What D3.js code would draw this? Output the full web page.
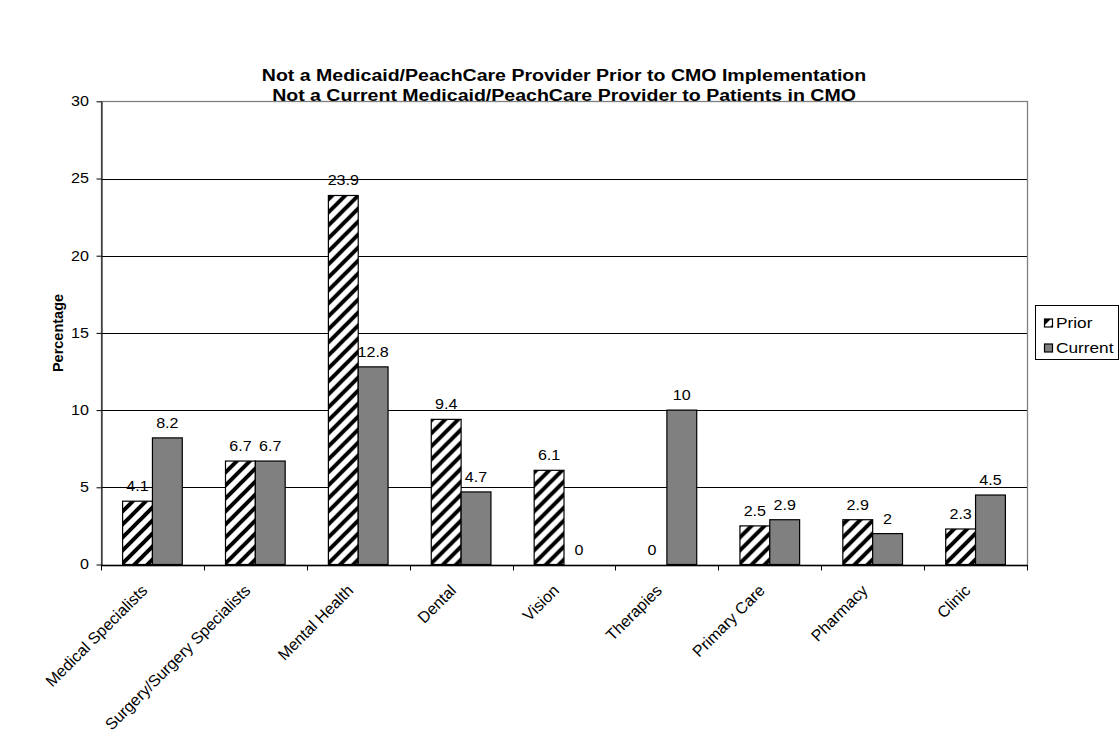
<!DOCTYPE html>
<html>
<head>
<meta charset="utf-8">
<script src="https://cdn.jsdelivr.net/npm/d3@7"></script>
<style>
  html, body { margin: 0; padding: 0; background: #fff; }
  svg { display: block; font-family: "Liberation Sans", Arial, sans-serif; }
</style>
</head>
<body>
<svg id="chart" width="1119" height="736"></svg>
<script>
// ---- data ----
const categories = ["Medical Specialists", "Surgery/Surgery Specialists", "Mental Health", "Dental", "Vision", "Therapies", "Primary Care", "Pharmacy", "Clinic"];
const seriesNames = ["Prior", "Current"];
const priorValues = [4.1, 6.7, 23.9, 9.4, 6.1, 0, 2.5, 2.9, 2.3];
const currentValues = [8.2, 6.7, 12.8, 4.7, 0, 10, 2.9, 2, 4.5];
const yTicks = [0, 5, 10, 15, 20, 25, 30];
const titleLines = ["Not a Medicaid/PeachCare Provider Prior to CMO Implementation", "Not a Current Medicaid/PeachCare Provider to Patients in CMO"];
const yAxisTitle = "Percentage";

const svg = d3.select("#chart");
const plot = { left: 101, right: 1027, top: 101.3, bottom: 564.5 };
const SX = 1.15; // horizontal text stretch

// hatch pattern
const defs = svg.append("defs");
const p = 13;
const pat = defs.append("pattern").attr("id", "hatch").attr("patternUnits", "userSpaceOnUse")
  .attr("width", p).attr("height", p);
pat.append("rect").attr("width", p).attr("height", p).attr("fill", "#fff");
pat.append("path")
  .attr("d", `M${-p/2},${p/2} L${p/2},${-p/2} M0,${p} L${p},0 M${p/2},${p*1.5} L${p*1.5},${p/2}`)
  .attr("stroke", "#000").attr("stroke-width", 4);

const x0 = d3.scaleBand().domain(categories).range([plot.left, plot.right]).padding(0);
const bw = x0.bandwidth();
const x1 = d3.scaleBand().domain(seriesNames).range([bw * 0.21, bw * 0.79]).padding(0);
const y = d3.scaleLinear().domain([0, 30]).range([plot.bottom, plot.top]);

const fills = { Prior: "url(#hatch)", Current: "#808080" };

// gridlines
svg.append("g").selectAll("line").data(yTicks.filter(t => t > 0 && t < 30)).join("line")
  .attr("x1", plot.left).attr("x2", plot.right)
  .attr("y1", d => Math.round(y(d)) + 0.5).attr("y2", d => Math.round(y(d)) + 0.5)
  .attr("stroke", "#000").attr("stroke-width", 1);

// plot border (top/right gray)
svg.append("rect").attr("x", plot.left + 0.5).attr("y", Math.round(plot.top) + 0.5)
  .attr("width", plot.right - plot.left).attr("height", Math.round(plot.bottom) - Math.round(plot.top))
  .attr("fill", "none").attr("stroke", "#808080").attr("stroke-width", 1.3);

// bars
const rows = categories.map((c, i) => ({ cat: c, vals: [{ s: "Prior", v: priorValues[i] }, { s: "Current", v: currentValues[i] }] }));
const groups = svg.append("g").selectAll("g").data(rows).join("g")
  .attr("transform", d => `translate(${x0(d.cat)},0)`);
groups.selectAll("rect").data(d => d.vals.filter(e => e.v > 0)).join("rect")
  .attr("x", d => x1(d.s)).attr("width", x1.bandwidth())
  .attr("y", d => y(d.v)).attr("height", d => y(0) - y(d.v))
  .attr("fill", d => fills[d.s]).attr("stroke", "#000").attr("stroke-width", 1.2);

// value labels
groups.selectAll("g.lbl").data(d => d.vals).join("g").attr("class", "lbl")
  .attr("transform", d => `translate(${x1(d.s) + x1.bandwidth() / 2},${y(d.v) - 10}) scale(${SX},1)`)
  .append("text")
  .attr("text-anchor", "middle").attr("font-size", 14).attr("fill", "#000")
  .text(d => d3.format("")(d.v));

// y axis
const yAxis = svg.append("g").attr("transform", `translate(${plot.left + 0.5},0)`)
  .call(d3.axisLeft(y).tickValues(yTicks).tickSize(5).tickSizeOuter(0).tickPadding(6));
yAxis.select(".domain").attr("stroke", "#000");
yAxis.selectAll(".tick text").attr("font-size", 14).attr("font-family", "Liberation Sans, Arial, sans-serif")
  .attr("fill", "#000").attr("transform", `scale(${SX},1)`);

// x axis
const xAxis = svg.append("g").attr("transform", `translate(0,${Math.round(plot.bottom) + 0.5})`);
xAxis.append("line").attr("x1", plot.left).attr("x2", plot.right + 1).attr("stroke", "#000").attr("stroke-width", 1.5);
xAxis.selectAll("line.tick").data(d3.range(categories.length + 1)).join("line").attr("class", "tick")
  .attr("x1", i => Math.round(plot.left + i * bw) + 0.5).attr("x2", i => Math.round(plot.left + i * bw) + 0.5)
  .attr("y1", 0).attr("y2", 5).attr("stroke", "#000");
xAxis.selectAll("text").data(categories).join("text")
  .attr("transform", d => `translate(${x0(d) + bw / 2 - 8},${22}) rotate(-45)`)
  .attr("text-anchor", "end").attr("dy", "0.35em").attr("font-size", 16).attr("fill", "#000")
  .text(d => d);

// title
svg.append("g").selectAll("g").data(titleLines).join("g")
  .attr("transform", (d, i) => `translate(564,${81 + i * 20}) scale(${SX},1)`)
  .append("text")
  .attr("text-anchor", "middle").attr("font-size", 17).attr("font-weight", "bold").text(d => d);

// y axis title
svg.append("text").attr("transform", "translate(63,333) rotate(-90)")
  .attr("text-anchor", "middle").attr("font-size", 14.5).attr("font-weight", "bold").text(yAxisTitle);

// legend
const lg = svg.append("g").attr("transform", "translate(1035,305)");
lg.append("rect").attr("x", 0.5).attr("y", 0.5).attr("width", 83).attr("height", 54)
  .attr("fill", "#fff").attr("stroke", "#000");
const li = lg.selectAll("g").data(seriesNames).join("g")
  .attr("transform", (d, i) => `translate(9,${18 + i * 25})`);
li.append("rect").attr("width", 8).attr("height", 8).attr("x", 0.5).attr("y", -4)
  .attr("fill", d => fills[d]).attr("stroke", "#000").attr("stroke-width", 1.2);
li.append("g").attr("transform", `translate(12,0) scale(${SX},1)`)
  .append("text").attr("dy", "0.35em").attr("font-size", 15).text(d => d);
</script>
</body>
</html>
